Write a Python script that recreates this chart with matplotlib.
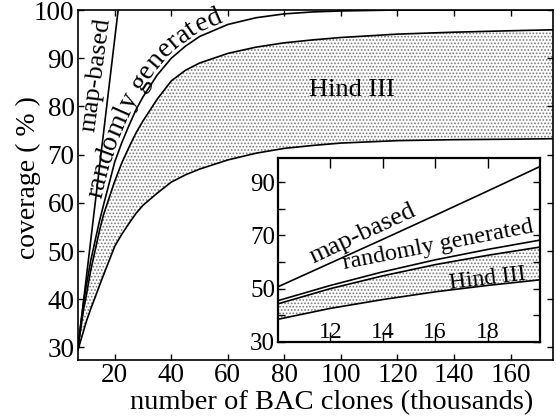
import numpy as np
import matplotlib
matplotlib.use("Agg")
import matplotlib.pyplot as plt

plt.rcParams['font.family'] = ['Liberation Serif', 'DejaVu Serif']
plt.rcParams['hatch.linewidth'] = 0.8

# main panel: coverage vs number of clones (thousands)
clones = [7, 8, 9, 10, 11.5, 13, 14.5, 16, 18, 20, 22.5, 25, 27.5, 30, 35, 40,
          45, 50, 60, 70, 80, 90, 100, 120, 140, 160, 175]
randomly_generated = [30, 35, 39.5, 43, 48, 52, 56, 59.5, 64, 68.5, 72.5, 76, 79.3, 82,
                      86.5, 90, 92.5, 94.5, 97, 98.4, 99.2, 99.6, 99.8, 100, 100, 100, 100]
hind_upper = [30, 34, 38, 41, 46, 50, 54, 57.5, 61, 64.5, 68.3, 71.5, 74.5, 77,
              81.5, 85.3, 87.5, 89, 91, 92.3, 93.2, 93.8, 94.3, 95, 95.4, 95.7, 95.9]
hind_lower = [29.5, 31.5, 33.5, 35.5, 38, 40.3, 42.7, 45, 48, 51, 53.5, 55.7, 57.8, 59.5,
              62, 64.3, 65.8, 67, 68.9, 70.3, 71.3, 71.9, 72.4, 72.9, 73.1, 73.2, 73.3]
map_x = [7, 21.2]
map_based = [30, 100]

# inset: 10-20 thousand clones
clones_in = [10, 12, 14, 16, 18, 20]
map_in = [50.7, 59.6, 68.5, 77.5, 86.6, 95.8]
rand_in = [45.5, 51.2, 56.3, 60.8, 64.7, 68.2]
hind_up_in = [44.3, 50.0, 54.8, 59.0, 62.5, 65.6]
hind_lo_in = [38.5, 42.6, 45.9, 48.8, 51.2, 53.3]

fig = plt.figure(figsize=(5.56, 4.17), dpi=100)
ax = fig.add_axes([0.1403, 0.1367, 0.8543, 0.8393])

ax.fill_between(clones, hind_lower, hind_upper, facecolor='white', edgecolor='#7a7a7a',
                hatch='.....', linewidth=0)
ax.plot(clones, hind_upper, color='black', lw=1.2)
ax.plot(clones, hind_lower, color='black', lw=1.2)
ax.plot(clones, randomly_generated, color='black', lw=1.2)
ax.plot(map_x, map_based, color='black', lw=1.2)

ax.set_xlim(7, 175)
ax.set_ylim(27.4, 100)
ax.set_xticks([20, 40, 60, 80, 100, 120, 140, 160])
ax.set_yticks([30, 40, 50, 60, 70, 80, 90, 100])
ax.tick_params(direction='in', top=True, right=True, length=4.5, width=1,
               labelsize=19.5, pad=2.5)
for s in ax.spines.values():
    s.set_linewidth(1.2)

ax.set_xlabel("number of BAC clones (thousands)", fontsize=20.5)
ax.xaxis.set_label_coords(0.533, -0.087)
ax.set_ylabel("coverage ( % )", fontsize=20)
ax.yaxis.set_label_coords(-0.078, 0.52)

ax.text(104, 83.4, "Hind III", fontsize=19, ha='center', va='center')
ax.text(13.3, 86.5, "map-based", fontsize=19, rotation=82.5, ha='center', va='center',
        rotation_mode='anchor')


def curved_text(ax, xs, ys, s, start_x, offset, size):
    fig.canvas.draw()
    r = fig.canvas.get_renderer()
    pts = ax.transData.transform(np.column_stack([xs, ys]))
    seg = np.hypot(np.diff(pts[:, 0]), np.diff(pts[:, 1]))
    arc = np.concatenate([[0], np.cumsum(seg)])
    s0 = np.interp(ax.transData.transform((start_x, np.interp(start_x, xs, ys)))[0],
                   pts[:, 0], arc)
    for ch in s:
        t = ax.text(0, 0, ch, fontsize=size)
        w = t.get_window_extent(r).width
        if ch == ' ' or w < 1:
            w = size * 100 / 72 * 0.25
        c = s0 + w / 2
        px = np.interp(c, arc, pts[:, 0])
        py = np.interp(c, arc, pts[:, 1])
        i = min(np.searchsorted(arc, c), len(pts) - 1)
        i = max(i, 1)
        dx, dy = pts[i] - pts[i - 1]
        n = np.hypot(dx, dy)
        ang = np.degrees(np.arctan2(dy, dx))
        px += -dy / n * offset
        py += dx / n * offset
        x, y = ax.transData.inverted().transform((px, py))
        t.set_position((x, y))
        t.set_rotation(ang)
        t.set_rotation_mode('anchor')
        t.set_ha('center')
        t.set_va('baseline')
        s0 += w


curved_text(ax, clones, randomly_generated, "randomly generated", 16.5, 4, 20)

# inset
ax2 = fig.add_axes([0.5, 0.18, 0.471, 0.441])
ax2.fill_between(clones_in, hind_lo_in, hind_up_in, facecolor='white', edgecolor='#7a7a7a',
                 hatch='.....', linewidth=0)
ax2.plot(clones_in, hind_up_in, color='black', lw=1.2)
ax2.plot(clones_in, hind_lo_in, color='black', lw=1.2)
ax2.plot(clones_in, rand_in, color='black', lw=1.2)
ax2.plot(clones_in, map_in, color='black', lw=1.2)
ax2.set_xlim(10, 20)
ax2.set_ylim(31, 99)
ax2.set_xticks([12, 14, 16, 18])
ax2.set_yticks([30, 40, 50, 60, 70, 80, 90])
ax2.set_yticklabels(['30', '', '50', '', '70', '', '90'])
ax2.tick_params(direction='in', top=True, right=True, length=5, width=1, labelsize=18)
ax2.tick_params(axis='x', pad=-14.5, length=7, labelsize=17)
ax2.tick_params(axis='y', pad=2)
for s in ax2.spines.values():
    s.set_linewidth(1.6)

ax2.text(13.4, 67.0, "map-based", fontsize=19, rotation=25, ha='center', va='bottom',
         rotation_mode='anchor')
ax2.text(16.2, 62.3, "randomly generated", fontsize=17.5, rotation=11, ha='center',
         va='bottom', rotation_mode='anchor')
ax2.text(18.0, 53.8, "Hind III", fontsize=17, rotation=7, ha='center', va='center',
         rotation_mode='anchor')

fig.savefig("out.png", dpi=100)
